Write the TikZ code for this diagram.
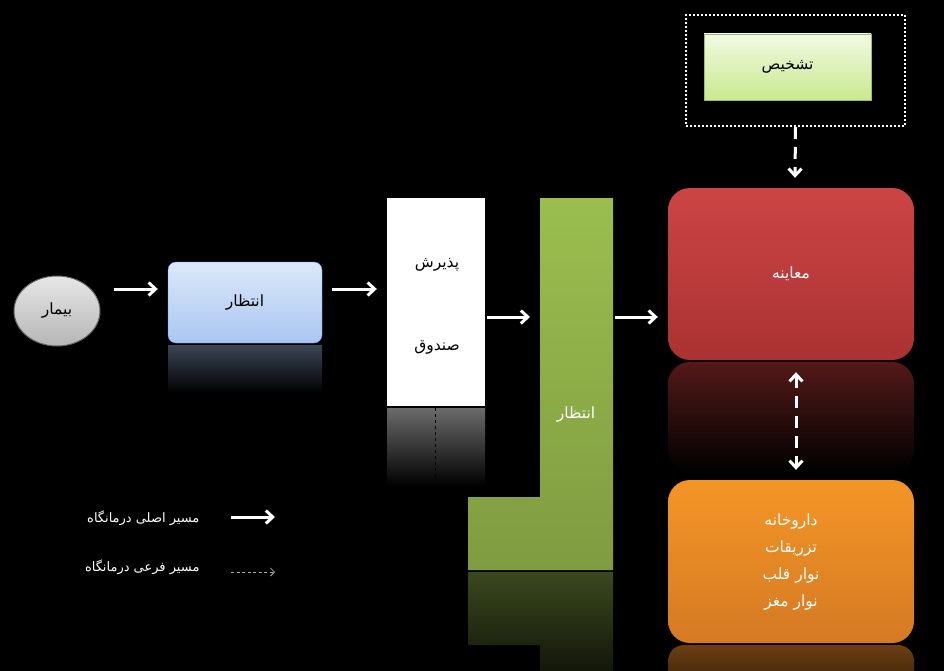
\documentclass[tikz,border=0pt]{standalone}
\usepackage{fontspec}
\usetikzlibrary{arrows.meta,shapes.geometric,calc}
\newfontfamily\arabicfont[Script=Arabic]{DejaVu Sans}
\TeXXeTstate=1
\newcommand{\fatext}[1]{{\arabicfont\beginR #1\endR}}

\definecolor{patientgray}{HTML}{D6D6D6}
\definecolor{waitblue}{HTML}{A9C6F2}
\definecolor{waitgreen}{HTML}{9BBE4F}
\definecolor{examred}{HTML}{C93B3B}
\definecolor{diaggreen}{HTML}{C9E98F}
\definecolor{servorange}{HTML}{F28A2A}

\tikzset{
  mainarrow/.style={white,line width=3pt,-{Straight Barb[length=7pt,width=13pt]}},
  subarrow/.style={white,line width=3pt,dash pattern=on 12pt off 8pt,
    -{Straight Barb[length=7pt,width=13pt]}},
  legendsub/.style={gray!70,line width=0.8pt,dash pattern=on 3pt off 2.5pt,
    -{Straight Barb[length=4pt,width=8pt]}},
  boxtext/.style={font=\fontsize{15.5}{18}\selectfont},
  legendtext/.style={white,font=\fontsize{13}{15}\selectfont},
  reflect/.style={bottom color=black}
}

\begin{document}
\begin{tikzpicture}[x=1pt,y=-1pt]
      \fill[black] (0,0) rectangle (944,671);
      \useasboundingbox (0,0) rectangle (944,671);
      \shade[reflect,top color=waitblue!35!black] (168,345) rectangle (322,393);
      \shade[reflect,top color=white!42!black] (387,408) rectangle (485,486);
      \draw[black,dashed,line width=0.8pt] (435,408) -- (435,480);
      \shade[reflect,top color=waitgreen!38!black,bottom color=waitgreen!12!black]
        (468,572) -- (613,572) -- (613,671) -- (540,671) -- (540,645) -- (468,645) -- cycle;
      \shade[reflect,top color=examred!42!black,rounded corners=22pt] (668,362) rectangle (914,472);
      \shade[top color=servorange!45!black,bottom color=servorange!18!black,rounded corners=16pt]
        (668,645) rectangle (914,700);
      \node[ellipse,draw=gray!80!black,line width=1pt,top color=patientgray!60,bottom color=patientgray!85!black,
        minimum width=86pt,minimum height=70pt,inner sep=0pt,boxtext] (patient) at (57,311) {\fatext{بیمار}};
      \node[draw=waitblue!70!blue,rounded corners=8pt,top color=waitblue!40,bottom color=waitblue,
        minimum width=154pt,minimum height=81pt,boxtext] (wait1) at (245,302.5) {\fatext{انتظار}};
      \node[fill=white,minimum width=98pt,minimum height=208pt] (recep) at (436,302) {};
      \node[boxtext] (recepA) at (437,265) {\fatext{پذیرش}};
      \node[boxtext] (recepB) at (437,347) {\fatext{صندوق}};
      \shade[top color=waitgreen,bottom color=waitgreen!82!black]
        (540,198) -- (613,198) -- (613,570) -- (468,570) -- (468,497) -- (540,497) -- cycle;
      \coordinate (barW) at (540,317);
      \coordinate (barE) at (613,317);
      \node[boxtext,white] (wait2) at (576,415) {\fatext{انتظار}};
      \node[rounded corners=22pt,top color=examred!95!white,bottom color=examred!85!black,
        minimum width=246pt,minimum height=172pt,boxtext,white] (exam) at (791,274) {\fatext{معاینه}};
      \node[draw=white,line width=2pt,dash pattern=on 2pt off 2pt,
        minimum width=219pt,minimum height=111pt] (diagframe) at (795.5,70.5) {};
      \node[draw=diaggreen!80!black,top color=diaggreen!25,bottom color=diaggreen,
        minimum width=167pt,minimum height=66pt,boxtext] (diag) at (787.5,67) {\fatext{تشخیص}};
      \node[rounded corners=22pt,top color=servorange!90!yellow,bottom color=servorange!88!black,
        minimum width=246pt,minimum height=163pt,white,align=center,
        font=\fontsize{15.5}{27}\selectfont] (services) at (791,561.5)
        {\fatext{داروخانه}\\\fatext{تزریقات}\\\fatext{نوار قلب}\\\fatext{نوار مغز}};
      \draw[mainarrow] ($(patient.east |- 0,289)+(13,0)$) -- ($(wait1.west |- 0,289)+(-10,0)$);
      \draw[mainarrow] ($(wait1.east |- 0,289)+(10,0)$) -- ($(recep.west |- 0,289)+(-10,0)$);
      \draw[mainarrow] ($(recep.east |- 0,317)+(2,0)$) -- ($(barW)+(-10,0)$);
      \draw[mainarrow] ($(barE)+(2,0)$) -- ($(exam.west |- 0,317)+(-10,0)$);
      \draw[subarrow] (diagframe.south) -- ($(exam.north)+(4,-10)$);
      \draw[subarrow,{Straight Barb[length=7pt,width=13pt]}-{Straight Barb[length=7pt,width=13pt]}]
        ($(exam.south)+(5,12)$) -- ($(services.north)+(5,-10)$);
      \node[anchor=east,legendtext] (mainlab) at (203,518) {\fatext{مسیر اصلی درمانگاه}};
      \node[anchor=east,legendtext] (sublab) at (203,567) {\fatext{مسیر فرعی درمانگاه}};
      \draw[mainarrow] ($(mainlab.east)+(28,-1)$) -- ++(44,0);
      \draw[legendsub] ($(sublab.east)+(28,5)$) -- ++(44,0);
    \end{tikzpicture}
\end{document}
